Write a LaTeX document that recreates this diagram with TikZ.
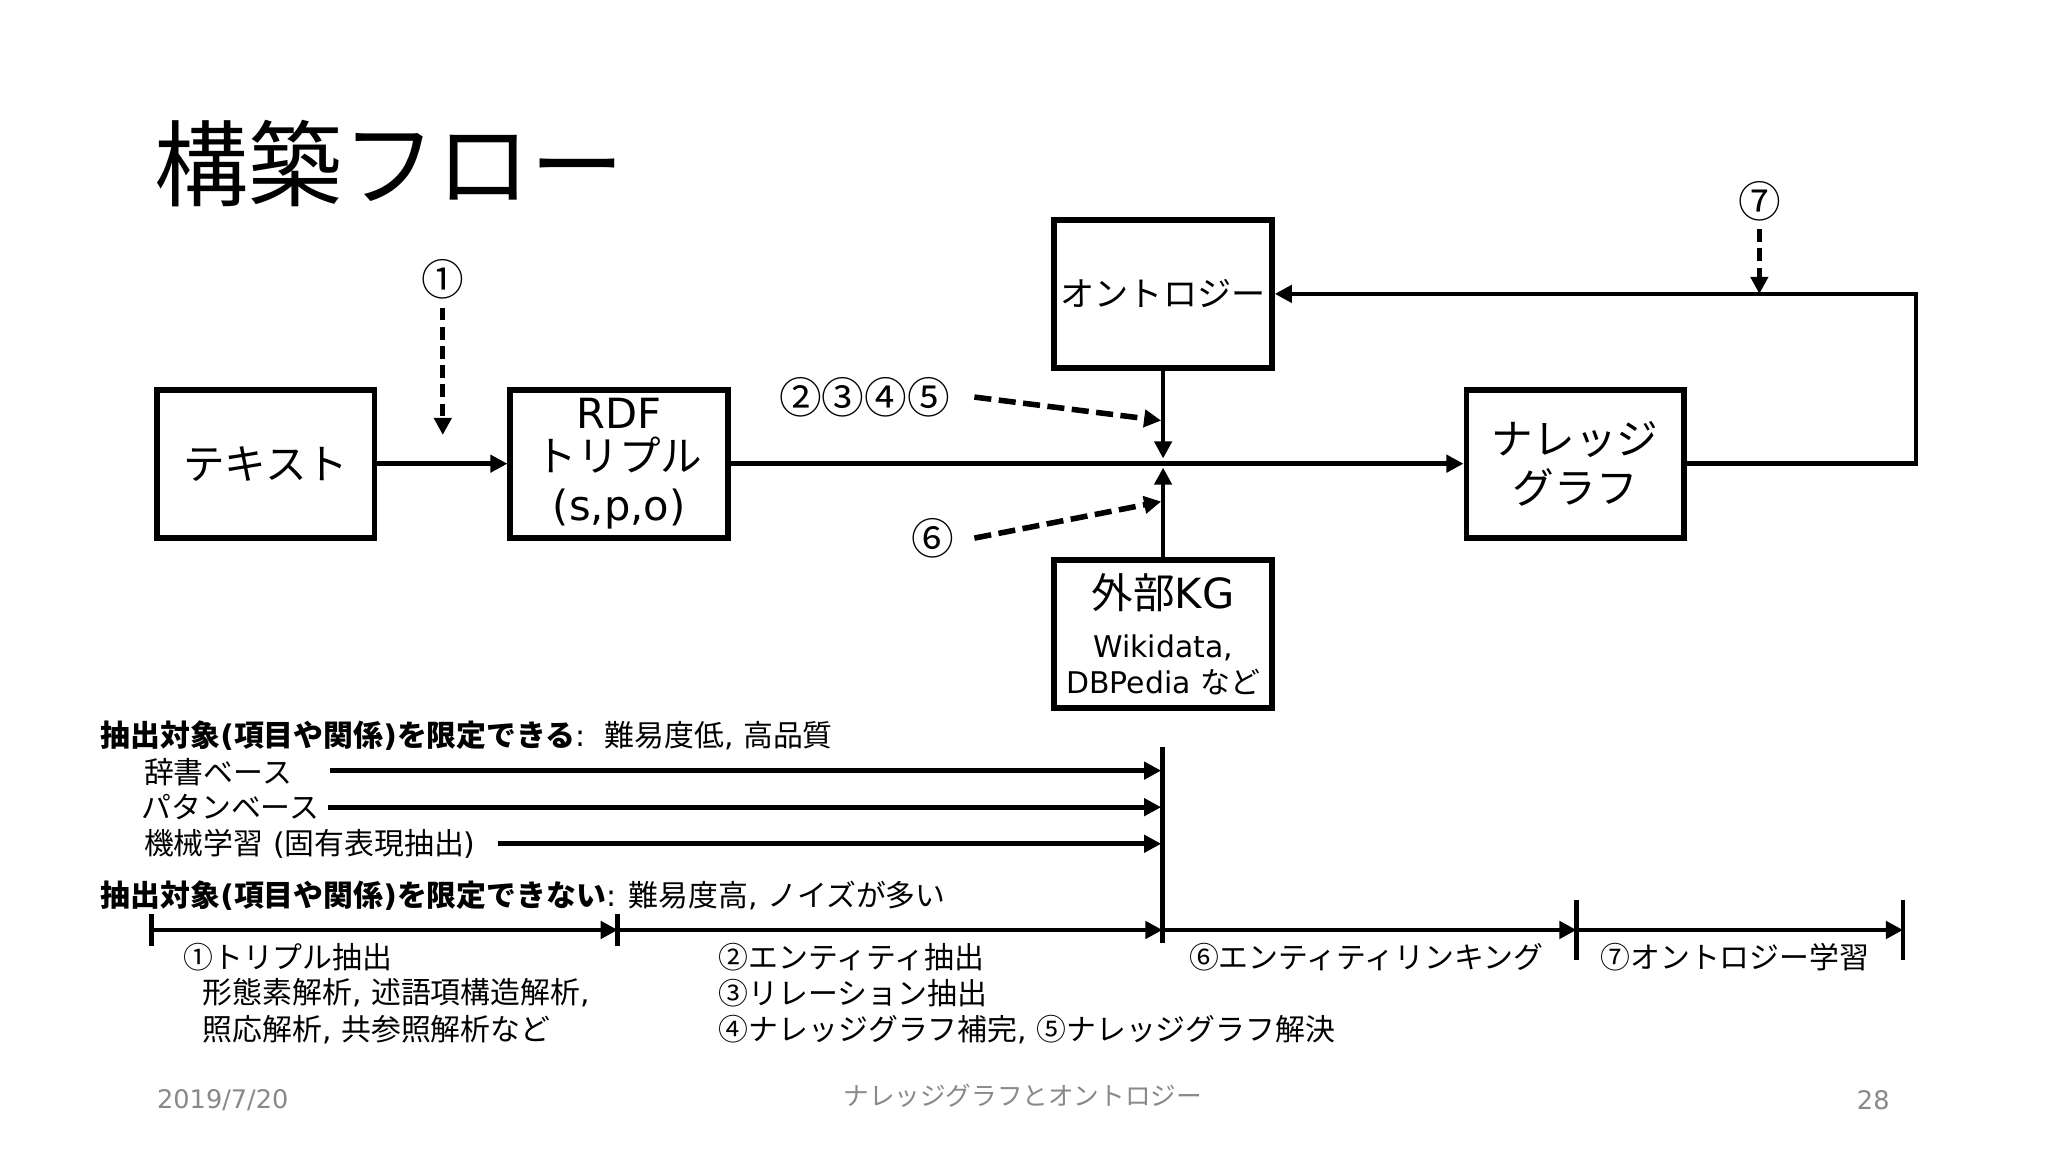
\documentclass[tikz,border=0pt]{standalone}
\usepackage{fontspec}
\setmainfont{DejaVu Sans}
\newfontfamily\jpfont{Noto Sans CJK JP}
\usetikzlibrary{arrows.meta}
% automatic switch to the Japanese font for CJK characters
\XeTeXinterchartokenstate=1
\newXeTeXintercharclass\jpclass
\newcount\jpc
\def\setjprange#1#2{\jpc=#1\relax\loop\XeTeXcharclass\jpc=\jpclass\ifnum\jpc<#2\advance\jpc by 1\repeat}
\setjprange{"2460}{"24FF}
\setjprange{"3000}{"30FF}
\setjprange{"4E00}{"9FFF}
\setjprange{"FF01}{"FF60}
\XeTeXinterchartoks 0 \jpclass = {\jpfont}
\XeTeXinterchartoks 4095 \jpclass = {\jpfont}
\XeTeXinterchartoks \jpclass 0 = {\rmfamily}
\XeTeXinterchartoks \jpclass 4095 = {\rmfamily}
\definecolor{footgray}{HTML}{898989}
\tikzset{
  box/.style={draw, line width=2.8pt, minimum width=101.9pt, minimum height=69.4pt, inner sep=0pt, align=center, font=\fontsize{19.5}{23}\selectfont},
  conn/.style={line width=2.2pt, -{Triangle[length=8pt,width=8pt]}},
  plainline/.style={line width=2.2pt},
  dasharrow/.style={line width=2.3pt, dash pattern=on 6pt off 3pt, -{Triangle[length=8pt,width=8pt]}},
  dasharrowlong/.style={line width=2.6pt, dash pattern=on 8pt off 3.5pt, -{Triangle[length=8pt,width=8pt]}},
  circlbl/.style={inner sep=0pt, font=\fontsize{20}{24}\selectfont},
  txt/.style={inner sep=0pt, anchor=west, font=\fontsize{14}{17}\selectfont},
  foot/.style={inner sep=0pt, text=footgray, font=\fontsize{12}{14}\selectfont},
}
\begin{document}
\begin{tikzpicture}[x=0.6122pt,y=-0.6122pt]
\useasboundingbox[fill=white] (0,0) rectangle (1568,882);
% title
\node[inner sep=0pt, anchor=west, font=\fontsize{44}{52}\selectfont] (title) at (118,125) {構築フロー};
% boxes
\node[box] (txtbox) at (203.5,355) {テキスト};
\node[box] (rdf) at (474,355) {\raisebox{-3pt}{RDF}\\トリプル\\(s,p,o)};
\node[box, font=\fontsize{16}{20}\selectfont] (onto) at (890.5,225) {オントロジー};
\node[box] (kg) at (1206,355) {ナレッジ\\グラフ};
\node[box] (ext) at (890.5,485.5) {外部KG\\{\fontsize{14}{17}\selectfont Wikidata,}\\[-6pt]{\fontsize{14}{17}\selectfont DBPedia など}};
% junction coordinates
\coordinate (jtop) at (890.5,351);
\coordinate (jbot) at (890.5,358);
\coordinate (fbA) at (1467,355);
\coordinate (fbB) at (1467,225);
% main connectors
\draw[conn] (txtbox.east) -- (rdf.west);
\draw[conn] (rdf.east) -- (kg.west);
\draw[conn] (onto.south) -- (jtop);
\draw[conn] (ext.north) -- (jbot);
\draw[conn] (kg.east) -- (fbA) -- (fbB) -- (onto.east);
% circled labels and dashed arrows
\node[circlbl] (c1) at (339,214) {①};
\coordinate (c1e) at (339,333);
\draw[dasharrow] (c1.south) ++(0,6) -- (c1e);
\node[circlbl] (c7) at (1347,154) {⑦};
\coordinate (c7e) at (1347,225);
\draw[dasharrow] (c7.south) ++(0,6) -- (c7e);
\node[circlbl] (c2345) at (662,304) {②③④⑤};
\coordinate (c2s) at (746,304);
\coordinate (c2e) at (889,322);
\draw[dasharrowlong] (c2s) -- (c2e);
\node[circlbl] (c6) at (714,412) {⑥};
\coordinate (c6s) at (746,412);
\coordinate (c6e) at (889,384);
\draw[dasharrowlong] (c6s) -- (c6e);
% lower section
\node[txt] (h1) at (77,563) {{\bfseries 抽出対象(項目や関係)を限定できる}:\ \ 難易度低, 高品質};
\node[txt] (m1) at (110,591) {辞書ベース};
\node[txt] (m2) at (108,618) {パタンベース};
\node[txt] (m3) at (110,646) {機械学習 (固有表現抽出)};
\coordinate (vtop) at (890,572);
\coordinate (vbot) at (890,722);
\draw[plainline] (vtop) -- (vbot);
\coordinate (m1s) at (253,590); \coordinate (m1e) at (889,590);
\coordinate (m2s) at (251,618); \coordinate (m2e) at (889,618);
\coordinate (m3s) at (381,646); \coordinate (m3e) at (889,646);
\draw[conn] (m1s) -- (m1e);
\draw[conn] (m2s) -- (m2e);
\draw[conn] (m3s) -- (m3e);
\node[txt] (h2) at (77,686) {{\bfseries 抽出対象(項目や関係)を限定できない}: 難易度高, ノイズが多い};
% timeline
\coordinate (p0) at (116,712);
\coordinate (p1) at (473,712);
\coordinate (p2) at (890,712);
\coordinate (p3) at (1207,712);
\coordinate (p4) at (1457,712);
\draw[conn] (p0) -- (p1);
\draw[conn] (p1) -- (p2);
\draw[conn] (p2) -- (p3);
\draw[conn] (p3) -- (p4);
\draw[plainline] (116,700) -- (116,724);
\draw[plainline] (473,700) -- (473,724);
\draw[plainline] (1207,689) -- (1207,735);
\draw[plainline] (1457,689) -- (1457,735);
\node[txt] (t1a) at (140,733) {①トリプル抽出};
\node[txt] (t1b) at (155,760) {形態素解析, 述語項構造解析,};
\node[txt] (t1c) at (155,788) {照応解析, 共参照解析など};
\node[txt] (t2a) at (550,733) {②エンティティ抽出};
\node[txt] (t2b) at (550,760) {③リレーション抽出};
\node[txt] (t2c) at (550,788) {④ナレッジグラフ補完, ⑤ナレッジグラフ解決};
\node[txt] (t6) at (910,733) {⑥エンティティリンキング};
\node[txt] (t7) at (1225,733) {⑦オントロジー学習};
% footer
\node[foot, anchor=west] (fdate) at (120,842) {2019/7/20};
\node[foot] (ftitle) at (783,839) {ナレッジグラフとオントロジー};
\node[foot, anchor=east] (fpage) at (1447,842) {28};
\end{tikzpicture}
\end{document}
